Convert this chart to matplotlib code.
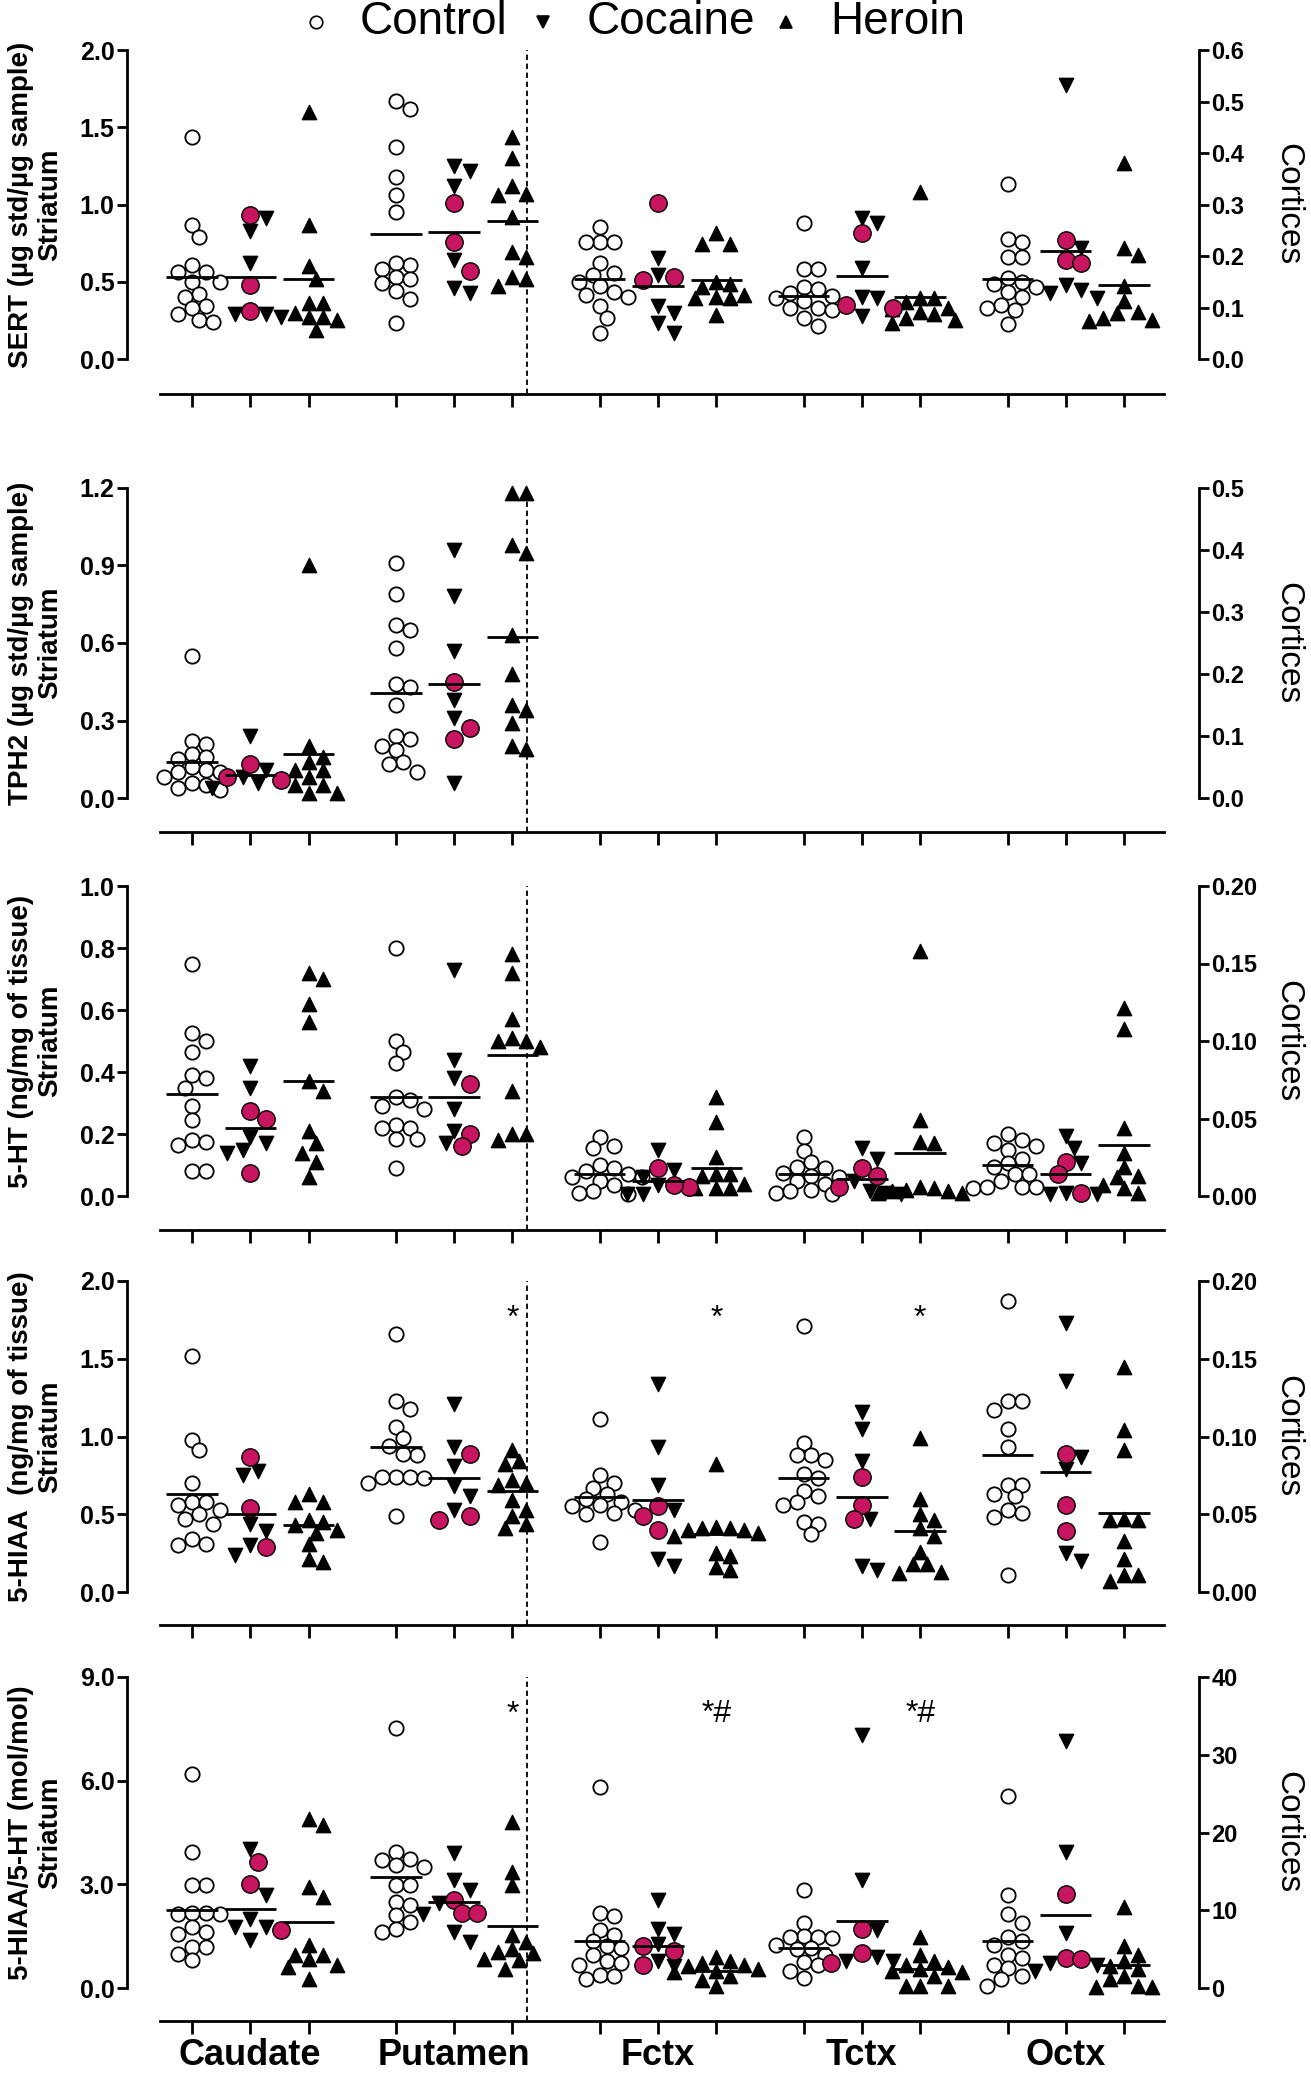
import matplotlib
matplotlib.use('Agg')
import matplotlib.pyplot as plt
import numpy as np

plt.rcParams['font.family'] = ['Liberation Sans', 'DejaVu Sans']

regions = ['Caudate', 'Putamen', 'Fctx', 'Tctx', 'Octx']
groups = ['Control', 'Cocaine', 'Heroin']

# ---- SERT ----
sert_control = [
    [1.44, 0.87, 0.79, 0.61, 0.56, 0.56, 0.50, 0.50, 0.42, 0.40, 0.34, 0.33, 0.25, 0.24, 0.29],
    [1.62, 1.67, 1.37, 1.18, 1.06, 0.95, 0.58, 0.61, 0.62, 0.53, 0.49, 0.52, 0.39, 0.44, 0.23],
    [0.256, 0.228, 0.227, 0.228, 0.186, 0.167, 0.163, 0.150, 0.131, 0.141, 0.125, 0.121, 0.102, 0.080, 0.050],
    [0.264, 0.175, 0.174, 0.140, 0.135, 0.128, 0.122, 0.118, 0.112, 0.100, 0.100, 0.095, 0.080, 0.065],
    [0.340, 0.233, 0.228, 0.199, 0.199, 0.157, 0.150, 0.145, 0.140, 0.130, 0.120, 0.105, 0.100, 0.095, 0.068]]
sert_cocaine = [
    [0.83, 0.91, 0.62, 0.27, 0.29, 0.29],
    [1.22, 1.25, 1.12, 0.64, 0.43, 0.46],
    [0.196, 0.163, 0.089, 0.050, 0.102, 0.070],
    [0.273, 0.264, 0.176, 0.121, 0.118, 0.083],
    [0.532, 0.215, 0.118, 0.144, 0.134, 0.128]]
sert_pink = [[0.93, 0.48, 0.31], [1.01, 0.76, 0.57], [0.302, 0.154, 0.160],
             [0.245, 0.099, 0.105], [0.231, 0.193, 0.186]]
sert_heroin = [
    [1.60, 0.87, 0.60, 0.52, 0.30, 0.27, 0.36, 0.36, 0.25, 0.27, 0.19],
    [1.44, 1.30, 1.12, 1.06, 1.07, 0.92, 0.66, 0.69, 0.47, 0.53, 0.52],
    [0.244, 0.224, 0.224, 0.150, 0.140, 0.145, 0.118, 0.120, 0.118, 0.125, 0.086],
    [0.325, 0.118, 0.118, 0.110, 0.100, 0.098, 0.092, 0.088, 0.080, 0.075, 0.070],
    [0.381, 0.215, 0.202, 0.141, 0.112, 0.092, 0.076, 0.089, 0.080, 0.073]]
sert_lines = [[0.53, 0.53, 0.52], [0.81, 0.82, 0.89], [0.155, 0.141, 0.154],
              [0.123, 0.162, 0.120], [0.156, 0.209, 0.144]]

# ---- TPH2 (striatum only) ----
tph2_control = [
    [0.55, 0.22, 0.21, 0.17, 0.16, 0.15, 0.12, 0.11, 0.10, 0.10, 0.08, 0.06, 0.05, 0.04, 0.03],
    [0.91, 0.79, 0.65, 0.67, 0.58, 0.43, 0.44, 0.36, 0.20, 0.23, 0.24, 0.185, 0.14, 0.13, 0.10],
    [], [], []]
tph2_cocaine = [[0.24, 0.11, 0.06, 0.04, 0.08], [0.96, 0.78, 0.57, 0.38, 0.31, 0.06], [], [], []]
tph2_pink = [[0.13, 0.07, 0.08], [0.45, 0.23, 0.27], [], [], []]
tph2_heroin = [
    [0.90, 0.20, 0.16, 0.14, 0.11, 0.11, 0.08, 0.05, 0.05, 0.02, 0.02],
    [1.18, 1.18, 0.95, 0.98, 0.63, 0.48, 0.36, 0.34, 0.29, 0.19, 0.20],
    [], [], []]
tph2_lines = [[0.14, 0.09, 0.17], [0.405, 0.44, 0.625], [], [], []]

# ---- 5-HT ----
ht_control = [
    [0.75, 0.525, 0.465, 0.50, 0.39, 0.38, 0.35, 0.29, 0.245, 0.165, 0.18, 0.175, 0.08, 0.08],
    [0.80, 0.50, 0.465, 0.43, 0.32, 0.29, 0.31, 0.28, 0.23, 0.22, 0.22, 0.185, 0.185, 0.09],
    [0.038, 0.032, 0.031, 0.020, 0.018, 0.016, 0.014, 0.012, 0.012, 0.010, 0.007, 0.003, 0.002, 0.001],
    [0.038, 0.029, 0.022, 0.019, 0.018, 0.015, 0.013, 0.012, 0.010, 0.008, 0.004, 0.002, 0.001, 0.003],
    [0.040, 0.036, 0.034, 0.032, 0.030, 0.024, 0.021, 0.019, 0.014, 0.014, 0.010, 0.006, 0.005, 0.006, 0.006]]
ht_cocaine = [
    [0.42, 0.35, 0.19, 0.14, 0.15, 0.17],
    [0.73, 0.44, 0.38, 0.28, 0.21, 0.17],
    [0.030, 0.012, 0.017, 0.001, 0.001, 0.007],
    [0.031, 0.024, 0.010, 0.003, 0.002, 0.001],
    [0.039, 0.031, 0.021, 0.001, 0.001, 0.002]]
ht_pink = [[0.25, 0.275, 0.075], [0.36, 0.20, 0.16], [0.018, 0.006, 0.007],
           [0.006, 0.013, 0.018], [0.022, 0.014, 0.002]]
ht_heroin = [
    [0.70, 0.72, 0.62, 0.56, 0.34, 0.37, 0.21, 0.17, 0.14, 0.11, 0.06],
    [0.78, 0.72, 0.57, 0.51, 0.48, 0.50, 0.50, 0.34, 0.18, 0.20, 0.20],
    [0.064, 0.048, 0.025, 0.014, 0.014, 0.013, 0.008, 0.005, 0.005, 0.005],
    [0.158, 0.049, 0.035, 0.034, 0.006, 0.005, 0.004, 0.003, 0.003, 0.002, 0.002],
    [0.121, 0.108, 0.044, 0.028, 0.019, 0.013, 0.012, 0.007, 0.005, 0.002]]
ht_lines = [[0.33, 0.22, 0.37], [0.32, 0.32, 0.455], [0.014, 0.010, 0.018],
            [0.014, 0.011, 0.028], [0.020, 0.014, 0.033]]

# ---- 5-HIAA ----
hiaa_control = [
    [1.52, 0.98, 0.91, 0.70, 0.58, 0.58, 0.56, 0.53, 0.50, 0.47, 0.44, 0.34, 0.31, 0.30],
    [1.66, 1.23, 1.18, 1.06, 0.99, 0.94, 0.88, 0.89, 0.74, 0.74, 0.73, 0.74, 0.70, 0.49],
    [0.111, 0.075, 0.070, 0.067, 0.063, 0.060, 0.058, 0.056, 0.055, 0.053, 0.051, 0.050, 0.032],
    [0.171, 0.096, 0.088, 0.088, 0.085, 0.076, 0.073, 0.065, 0.062, 0.056, 0.058, 0.045, 0.044, 0.037],
    [0.187, 0.117, 0.123, 0.123, 0.105, 0.093, 0.069, 0.069, 0.062, 0.063, 0.048, 0.053, 0.051, 0.011]]
hiaa_cocaine = [
    [0.78, 0.75, 0.44, 0.39, 0.24, 0.30],
    [1.21, 0.93, 0.81, 0.68, 0.62, 0.53],
    [0.134, 0.093, 0.069, 0.053, 0.017, 0.021],
    [0.116, 0.105, 0.084, 0.047, 0.014, 0.017],
    [0.173, 0.136, 0.087, 0.079, 0.020, 0.025]]
hiaa_pink = [[0.87, 0.54, 0.29], [0.89, 0.46, 0.49], [0.055, 0.049, 0.040],
             [0.074, 0.056, 0.047], [0.089, 0.056, 0.039]]
hiaa_heroin = [
    [0.63, 0.58, 0.58, 0.46, 0.45, 0.43, 0.40, 0.38, 0.31, 0.21, 0.19],
    [0.91, 0.82, 0.84, 0.72, 0.70, 0.69, 0.59, 0.53, 0.49, 0.41, 0.44],
    [0.082, 0.042, 0.041, 0.041, 0.040, 0.040, 0.038, 0.036, 0.023, 0.025, 0.016, 0.014],
    [0.099, 0.060, 0.050, 0.046, 0.041, 0.036, 0.026, 0.012, 0.018, 0.013, 0.018],
    [0.145, 0.104, 0.091, 0.046, 0.047, 0.046, 0.033, 0.021, 0.007, 0.011, 0.011]]
hiaa_lines = [[0.63, 0.50, 0.43], [0.93, 0.73, 0.65], [0.061, 0.059, 0.037],
              [0.073, 0.061, 0.039], [0.088, 0.077, 0.051]]

# ---- 5-HIAA/5-HT ratio ----
ratio_control = [
    [6.20, 3.94, 2.97, 2.98, 2.15, 2.15, 2.18, 2.18, 1.77, 1.62, 1.57, 1.19, 1.19, 0.99, 0.80],
    [7.52, 3.94, 3.69, 3.74, 3.55, 3.50, 2.97, 2.97, 2.49, 2.39, 2.10, 1.62, 1.91, 1.72],
    [25.8, 9.7, 9.3, 7.4, 6.8, 6.0, 5.4, 5.2, 4.3, 3.5, 3.2, 3.0, 1.7, 1.5, 1.1],
    [12.6, 8.4, 6.7, 6.6, 6.5, 6.4, 5.5, 5.2, 5.0, 4.3, 3.3, 2.9, 2.2, 1.3],
    [24.7, 11.9, 9.5, 8.4, 6.5, 6.1, 5.5, 4.3, 3.9, 3.0, 2.6, 1.5, 1.1, 0.2]]
ratio_cocaine = [
    [4.03, 2.68, 2.0, 1.77, 1.77, 1.38],
    [3.92, 3.12, 2.83, 2.45, 2.15, 1.33, 1.62],
    [11.3, 7.6, 7.0, 5.6, 3.5, 2.8],
    [32.5, 13.9, 7.4, 4.0, 3.5, 3.5],
    [31.8, 17.5, 7.1, 3.2, 3.0, 2.2]]
ratio_pink = [[3.64, 3.02, 1.67], [2.54, 2.18, 2.18], [5.4, 4.8, 3.0],
              [7.6, 4.5, 3.2], [12.1, 3.9, 3.7]]
ratio_heroin = [
    [4.71, 4.90, 2.63, 2.92, 1.23, 0.95, 0.85, 0.66, 0.61, 0.95, 0.27],
    [4.80, 3.36, 2.97, 1.54, 1.33, 1.14, 1.04, 1.00, 0.85, 0.80, 0.56],
    [4.0, 3.5, 3.2, 3.0, 2.8, 2.5, 2.2, 2.0, 1.5, 1.0, 0.3],
    [6.5, 4.3, 3.5, 3.0, 2.7, 2.5, 2.2, 2.0, 1.5, 0.3, 0.3, 0.3],
    [10.4, 5.4, 4.3, 3.5, 2.8, 2.4, 1.5, 1.1, 0.2, 0.1, 0.1]]
ratio_lines = [[2.27, 2.30, 1.91], [3.21, 2.50, 1.79], [6.1, 5.4, 2.25],
               [5.2, 8.6, 2.4], [6.1, 9.4, 2.9]]

# axis settings per panel
ylabels = ['SERT (µg std/µg sample)\nStriatum', 'TPH2 (µg std/µg sample)\nStriatum',
           '5-HT (ng/mg of tissue)\nStriatum', '5-HIAA  (ng/mg of tissue)\nStriatum',
           '5-HIAA/5-HT (mol/mol)\nStriatum']
left_ticks = [np.arange(0, 2.01, 0.5), np.arange(0, 1.21, 0.3), np.arange(0, 1.01, 0.2),
              np.arange(0, 2.01, 0.5), np.arange(0, 9.01, 3.0)]
left_fmt = ['{:.1f}', '{:.1f}', '{:.1f}', '{:.1f}', '{:.1f}']
right_ticks = [np.arange(0, 0.61, 0.1), np.arange(0, 0.51, 0.1), np.arange(0, 0.201, 0.05),
               np.arange(0, 0.201, 0.05), np.arange(0, 41, 10)]
right_fmt = ['{:.1f}', '{:.1f}', '{:.2f}', '{:.2f}', '{:.0f}']
signif = [[], [], [], [(1, '*'), (2, '*'), (3, '*')], [(1, '*'), (2, '*#'), (3, '*#')]]

panels = [
    (sert_control, sert_cocaine, sert_pink, sert_heroin, sert_lines),
    (tph2_control, tph2_cocaine, tph2_pink, tph2_heroin, tph2_lines),
    (ht_control, ht_cocaine, ht_pink, ht_heroin, ht_lines),
    (hiaa_control, hiaa_cocaine, hiaa_pink, hiaa_heroin, hiaa_lines),
    (ratio_control, ratio_cocaine, ratio_pink, ratio_heroin, ratio_lines),
]

# layout in pixels
W, H = 1311, 2076
X_LEFT, X_RIGHT = 127, 1199
X0, UX = 192, 58.25
tops = [50, 488, 886, 1281, 1677]
zeros = [359, 798, 1196, 1592, 1988]
bases = [394, 832, 1230, 1625, 2021]
PINK = '#C8155F'
STEP = 3.5
MS = 10.3


def swarm(vals, ppy, d):
    vals = np.asarray(vals, float)
    ys = vals * ppy
    xs = np.zeros(len(vals))
    done = []
    for i in np.argsort(-vals):
        x = 0.0
        for k in [0, 1, -1, 2, -2, 3, -3, 4, -4, 5, -5, 6, -6]:
            x = k * d * 0.5
            if all((x - xs[j]) ** 2 + (ys[i] - ys[j]) ** 2 >= (0.92 * d) ** 2 for j in done):
                break
        xs[i] = x
        done.append(i)
    return xs / UX


fig = plt.figure(figsize=(W / 100, H / 100), dpi=100)

for p, (ctrl, coc, pink, her, lines) in enumerate(panels):
    top, zero, base = tops[p], zeros[p], bases[p]
    ymax = left_ticks[p][-1]
    rmax = right_ticks[p][-1]
    ybot = -(base - zero) / (zero - top) * ymax
    ax = fig.add_axes([X_LEFT / W, 1 - base / H, (X_RIGHT - X_LEFT) / W, (base - top) / H])
    ax.set_ylim(ybot, ymax)
    ax.set_xlim((X_LEFT - X0) / UX, (X_RIGHT - X0) / UX)
    ax2 = ax.twinx()
    ax2.set_ylim(ybot * rmax / ymax, rmax)

    for r in range(5):
        tgt = ax if r < 2 else ax2
        top_val = ymax if r < 2 else rmax
        ppy = (zero - top) / top_val
        base_x = r * STEP
        if len(ctrl[r]):
            xo = swarm(ctrl[r], ppy, 14)
            tgt.scatter(base_x + xo, ctrl[r], s=MS ** 2, marker='o', facecolor='white',
                        edgecolor='black', linewidth=1.3, zorder=3, clip_on=False)
        if len(coc[r]):
            allv = list(coc[r]) + list(pink[r])
            xo = swarm(allv, ppy, 15.5)
            n = len(coc[r])
            tgt.scatter(base_x + 1 + xo[:n], coc[r], s=MS ** 2, marker='v', color='black',
                        zorder=3, clip_on=False)
            tgt.scatter(base_x + 1 + xo[n:], pink[r], s=12.5 ** 2, marker='o', facecolor=PINK,
                        edgecolor='black', linewidth=1.0, zorder=4, clip_on=False)
        if len(her[r]):
            xo = swarm(her[r], ppy, 14)
            tgt.scatter(base_x + 2 + xo, her[r], s=MS ** 2, marker='^', color='black',
                        zorder=3, clip_on=False)
        for t, v in enumerate(lines[r]):
            tgt.hlines(v, base_x + t - 0.44, base_x + t + 0.44, color='black', lw=2.0, zorder=5)

    for r, txt in signif[p]:
        tgt = ax if r < 2 else ax2
        tgt.text(r * STEP + 2, 0.868, txt, transform=tgt.get_xaxis_transform(),
                 ha='center', va='baseline', fontsize=23)

    # dashed separator between striatum and cortices
    ax.axvline(1.5 * STEP + 0.5, color='black', lw=1.3, ls=(0, (3, 2)))

    # spines
    for s in ['top', 'right']:
        ax.spines[s].set_visible(False)
    for s in ['top', 'left', 'bottom']:
        ax2.spines[s].set_visible(False)
    ax.spines['left'].set_bounds(0, ymax)
    ax.spines['bottom'].set_bounds(-0.55, 4 * STEP + 2 + 0.69)
    ax2.spines['right'].set_bounds(0, rmax)
    for sp in [ax.spines['left'], ax.spines['bottom'], ax2.spines['right']]:
        sp.set_linewidth(2.0)

    ax.set_yticks(left_ticks[p], [left_fmt[p].format(v) for v in left_ticks[p]],
                  fontweight='bold')
    ax2.set_yticks(right_ticks[p], [right_fmt[p].format(v) for v in right_ticks[p]],
                   fontweight='bold')
    ax.tick_params(axis='y', length=7, width=2, labelsize=18, pad=2)
    ax2.tick_params(axis='y', length=7, width=2, labelsize=17, pad=2)

    xpos = [r * STEP + t for r in range(5) for t in range(3)]
    ax.set_xticks(xpos, [''] * len(xpos))
    ax.tick_params(axis='x', which='major', length=9, width=2)
    if p == 4:
        ax.xaxis.remove_overlapping_locs = False
        ax.set_xticks([r * STEP + 1 for r in range(5)], regions, minor=True,
                      fontweight='bold', fontsize=26)
        ax.tick_params(axis='x', which='minor', length=0, pad=12)

    yc = 1 - (top + zero) / 2 / H
    fig.text(36 / W, yc, ylabels[p], rotation=90, ha='center', va='center',
             fontsize=20, fontweight='bold', linespacing=1.15, multialignment='center')
    fig.text(1288 / W, yc, 'Cortices', rotation=270, ha='center', va='center', fontsize=24)

# legend at top
lax = fig.add_axes([0, 0, 1, 1])
lax.set_xlim(0, W)
lax.set_ylim(H, 0)
lax.axis('off')
leg_x = [316, 543, 786]
leg_mark = ['o', 'v', '^']
leg_face = ['white', 'black', 'black']
for gx, m, fc, name in zip(leg_x, leg_mark, leg_face, groups):
    lax.plot(gx, 22, marker=m, ms=9, mfc=fc, mec='black', mew=1.2, ls='none')
    lax.text(gx + 44, 22, name, fontsize=33, ha='left', va='center')

fig.savefig('out.png', dpi=100)
